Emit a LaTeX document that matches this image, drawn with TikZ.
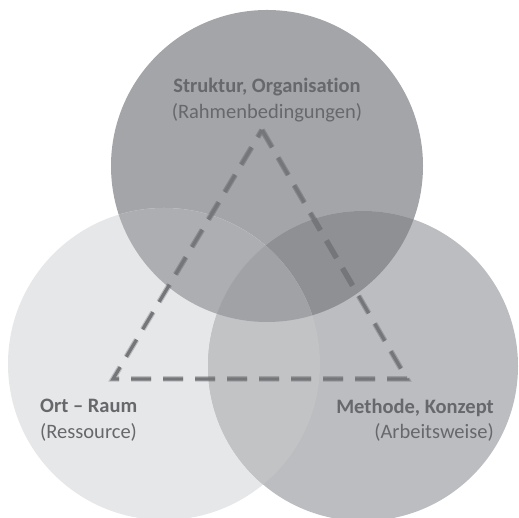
\documentclass[tikz,border=0pt]{standalone}
\usepackage{fontspec}
\setmainfont[Ligatures=NoCommon]{Carlito}
\definecolor{kreisoben}{HTML}{A4A5A9}
\definecolor{kreislinks}{HTML}{E6E7E8}
\definecolor{kreisrechts}{HTML}{BCBDC0}
\definecolor{obenlinks}{HTML}{ADAEB1}
\definecolor{obenrechts}{HTML}{8F9094}
\definecolor{linksrechts}{HTML}{C2C3C5}
\definecolor{mitte}{HTML}{A1A2A6}
\definecolor{linie}{HTML}{75767A}
\definecolor{schrift}{HTML}{67686C}
\tikzset{
  strich/.style={line width=3.2pt, dash pattern=on 20pt off 12pt, miter limit=10},
  titel/.style={text=schrift, font=\fontsize{20.5}{25.5}\selectfont, align=center, inner sep=0pt}
}

\begin{document}
\begin{tikzpicture}[x=1pt,y=1pt]
    \useasboundingbox (0,0) rectangle (519,518);

    % Kreise
    \coordinate (mo) at (267,352);
    \coordinate (ml) at (164,154);
    \coordinate (mr) at (363,152);
    \fill[kreisoben] (mo) circle (156pt);
    \fill[kreislinks] (ml) circle (156pt);
    \fill[kreisrechts] (mr) circle (155pt);

    % Schnittflaechen
    \begin{scope}
        \clip (mo) circle (156pt);
        \fill[obenlinks] (ml) circle (156pt);
        \fill[obenrechts] (mr) circle (155pt);
    \end{scope}
    \begin{scope}
        \clip (ml) circle (156pt);
        \fill[linksrechts] (mr) circle (155pt);
        \clip (mr) circle (155pt);
        \fill[mitte] (mo) circle (156pt);
    \end{scope}

    % Dreieck
    \coordinate (spitze) at (262,388);
    \coordinate (ecklinks) at (113,139);
    \coordinate (eckrechts) at (407,139);
    \draw[strich, black, opacity=0.18, line width=5.5pt, shift={(1.5,-2)}]
        (spitze) -- (eckrechts) -- (ecklinks) -- cycle;
    \draw[strich, linie] (spitze) -- (eckrechts) -- (ecklinks) -- cycle;

    % Beschriftung
    \node[titel] (struktur) at (267,418) {\textbf{Struktur, Organisation}\\(Rahmenbedingungen)};
    \node[titel, anchor=west, align=left] (ort) at (40,98) {\textbf{Ort – Raum}\\(Ressource)};
    \node[titel, anchor=east, align=right] (methode) at (494,98) {\textbf{Methode, Konzept}\\(Arbeitsweise)};
\end{tikzpicture}
\end{document}
